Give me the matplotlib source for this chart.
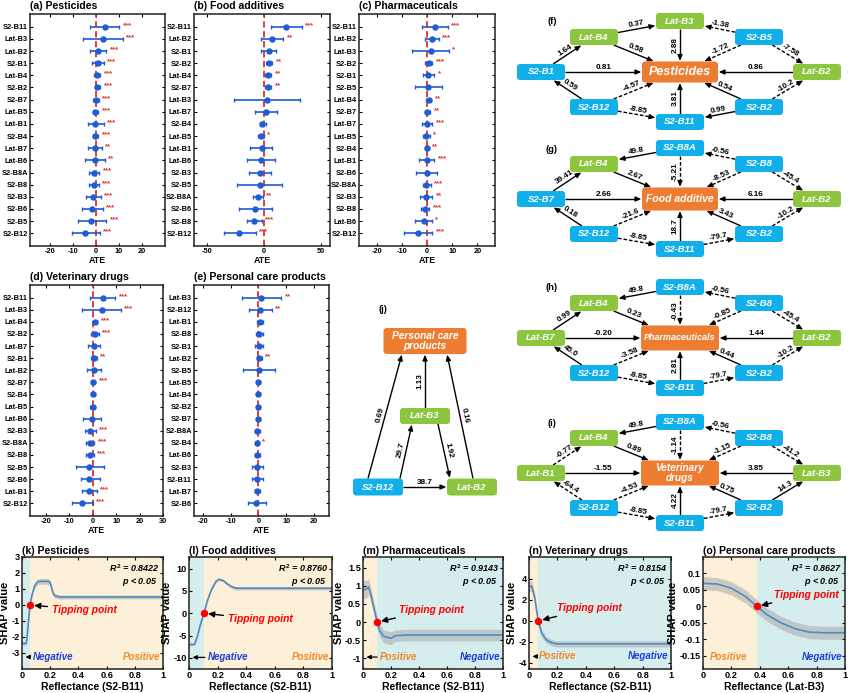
import numpy as np
import matplotlib
matplotlib.use("Agg")
import matplotlib.pyplot as plt
from matplotlib.patches import FancyBboxPatch

plt.rcParams['font.family'] = ['Liberation Sans', 'DejaVu Sans']
plt.rcParams['font.weight'] = 'bold'
plt.rcParams['axes.labelweight'] = 'bold'
plt.rcParams['mathtext.fontset'] = 'custom'
plt.rcParams['mathtext.it'] = 'Liberation Sans:italic:bold'
plt.rcParams['mathtext.rm'] = 'Liberation Sans:bold'
plt.rcParams['mathtext.bf'] = 'Liberation Sans:bold'

# ---------------- forest plot data (ATE with CI) ----------------
a_labels = ["S2-B11","Lat-B3","Lat-B2","S2-B1","Lat-B4","S2-B2","S2-B7","Lat-B5","Lat-B1","S2-B4","Lat-B7","Lat-B6","S2-B8A","S2-B8","S2-B3","S2-B6","S2-B5","S2-B12"]
a_ate = [3.7, 2.9, 0.9, 0.9, 0.4, 0.4, -0.1, -0.3, -0.3, -0.3, -0.6, -0.6, -0.9, -1.0, -1.1, -1.6, -2.0, -4.6]
a_lo = [-2.4, -5.7, -2.7, -1.6, -0.9, -0.6, -1.1, -1.3, -3.6, -1.1, -3.6, -4.7, -2.9, -2.9, -4.3, -6.0, -7.7, -10.6]
a_hi = [10.0, 11.6, 4.4, 3.4, 1.9, 1.9, 1.1, 1.0, 3.4, 0.9, 2.6, 3.7, 1.4, 1.3, 2.1, 3.0, 4.4, 1.6]
a_sig = ["***","***","***","***","***","***","***","***","***","***","**","**","***","***","***","***","***","***"]

b_labels = ["S2-B11","Lat-B2","S2-B1","S2-B2","Lat-B4","S2-B7","Lat-B3","Lat-B7","S2-B4","Lat-B5","Lat-B1","Lat-B6","S2-B3","S2-B5","S2-B8A","S2-B6","S2-B8","S2-B12"]
b_ate = [19.9, 7.0, 4.4, 4.9, 4.1, 3.8, 2.6, 1.8, -1.2, -2.0, -1.8, -2.6, -3.2, -3.5, -5.0, -7.9, -8.5, -22.0]
b_lo = [6.1, -2.6, -2.0, 2.0, 1.4, 0.9, -26.0, -7.9, -3.2, -5.0, -12.0, -15.0, -13.0, -23.0, -9.0, -22.0, -14.9, -35.0]
b_hi = [33.3, 17.0, 11.0, 7.6, 6.7, 6.7, 31.6, 11.3, 1.8, 0.0, 7.6, 9.6, 6.1, 16.3, -1.0, 7.6, -1.7, -7.0]
b_sig = ["***","**","","**","**","**","","","","*","","","","","**","","***","***"]

c_labels = ["S2-B11","Lat-B2","Lat-B3","S2-B2","S2-B1","S2-B5","Lat-B4","S2-B7","Lat-B7","Lat-B5","S2-B4","Lat-B1","S2-B6","S2-B8A","S2-B3","S2-B8","Lat-B6","S2-B12"]
c_ate = [3.0, 1.8, 1.7, 0.7, 0.5, 0.5, 0.7, 0.1, 0.1, -0.3, -0.1, -0.1, -0.1, -0.3, -0.5, -0.7, -1.3, -3.4]
c_lo = [-1.8, -0.9, -5.9, -0.7, -1.6, -4.9, -0.3, -0.8, -2.1, -1.5, -0.8, -3.2, -4.5, -1.7, -2.9, -2.2, -4.6, -9.1]
c_hi = [8.3, 4.6, 8.7, 2.1, 2.9, 6.0, 1.6, 1.2, 2.1, 1.0, 0.7, 2.8, 4.1, 1.4, 2.0, 0.9, 1.8, 2.0]
c_sig = ["***","***","*","***","*","","**","**","***","*","**","***","","***","**","***","*","***"]

d_labels = ["S2-B11","Lat-B3","Lat-B4","S2-B2","Lat-B7","S2-B1","Lat-B2","S2-B7","S2-B4","Lat-B5","Lat-B6","S2-B3","S2-B8A","S2-B8","S2-B5","S2-B6","Lat-B1","S2-B12"]
d_ate = [4.2, 3.8, 1.0, 0.8, 0.6, 0.4, 0.6, 0.1, 0.0, -0.1, -0.4, -1.1, -1.1, -1.1, -1.4, -1.4, -1.5, -4.6]
d_lo = [-1.1, -4.4, 0.0, -0.8, -2.1, -0.7, -2.5, -0.8, -0.8, -1.2, -4.2, -3.2, -2.7, -2.8, -7.2, -5.1, -4.6, -8.9]
d_hi = [9.7, 12.0, 2.0, 2.5, 3.1, 1.7, 3.4, 1.1, 0.8, 1.1, 3.4, 1.3, 0.6, 0.4, 4.9, 3.1, 1.7, -0.1]
d_sig = ["***","***","***","***","","**","","***","","","","***","***","***","","","***","***"]

e_labels = ["Lat-B3","S2-B12","Lat-B1","S2-B8","S2-B1","Lat-B2","S2-B5","Lat-B5","Lat-B4","S2-B2","S2-B7","S2-B8A","S2-B4","Lat-B6","S2-B3","S2-B11","Lat-B7","S2-B6"]
e_ate = [1.0, 0.5, 0.4, 0.2, 0.2, 0.1, 0.1, 0.0, 0.0, 0.0, 0.0, -0.4, -0.4, -0.4, -0.4, -0.5, -0.5, -0.8]
e_lo = [-6.0, -3.5, -0.7, -1.0, -1.2, -0.6, -5.7, -0.4, -0.4, -0.5, -0.4, -1.1, -0.8, -1.2, -2.4, -2.5, -1.4, -3.8]
e_hi = [8.2, 4.8, 1.7, 1.8, 1.7, 1.1, 5.8, 0.4, 0.4, 0.5, 0.4, 0.6, 0.1, 0.6, 1.8, 1.6, 0.4, 2.7]
e_sig = ["**","**","","","","**","","","","","","","*","","","","",""]

# ---------------- causal network data (edge: source, target, effect) ----------------
f_edges = [("S2-B1","Lat-B4","1.64"),("Lat-B4","Lat-B3","0.37"),("Lat-B4","Pesticides","0.58"),
           ("Lat-B3","Pesticides","2.88"),("S2-B5","Lat-B3","-1.38"),("S2-B5","Pesticides","-1.72"),
           ("S2-B5","Lat-B2","-7.58"),("S2-B1","Pesticides","0.81"),("Lat-B2","Pesticides","0.86"),
           ("S2-B12","S2-B1","0.59"),("S2-B12","Pesticides","-4.57"),("S2-B12","S2-B11","-8.85"),
           ("S2-B11","Pesticides","3.81"),("S2-B2","Pesticides","0.54"),("S2-B2","S2-B11","0.99"),
           ("S2-B2","Lat-B2","-10.2")]
g_edges = [("S2-B8A","Lat-B4","49.8"),("S2-B7","Lat-B4","39.41"),("Lat-B4","Food additive","2.67"),
           ("S2-B8A","Food additive","-5.21"),("S2-B8","S2-B8A","-0.56"),("S2-B8","Food additive","-8.53"),
           ("S2-B8","Lat-B2","-45.4"),("S2-B7","Food additive","2.66"),("Lat-B2","Food additive","6.16"),
           ("S2-B12","S2-B7","0.18"),("S2-B12","Food additive","-21.6"),("S2-B12","S2-B11","-8.85"),
           ("S2-B11","Food additive","18.7"),("S2-B11","S2-B2","-79.7"),("S2-B2","Food additive","3.43"),
           ("S2-B2","Lat-B2","-10.2")]
h_edges = [("S2-B8A","Lat-B4","49.8"),("Lat-B7","Lat-B4","0.99"),("Lat-B4","Pharmaceuticals","0.23"),
           ("S2-B8A","Pharmaceuticals","-0.43"),("S2-B8","S2-B8A","-0.56"),("S2-B8","Pharmaceuticals","-0.85"),
           ("S2-B8","Lat-B2","-45.4"),("Lat-B7","Pharmaceuticals","-0.20"),("Lat-B2","Pharmaceuticals","1.44"),
           ("S2-B12","Lat-B7","45.0"),("S2-B12","Pharmaceuticals","-3.58"),("S2-B12","S2-B11","-8.85"),
           ("S2-B11","Pharmaceuticals","2.81"),("S2-B11","S2-B2","-79.7"),("S2-B2","Pharmaceuticals","0.44"),
           ("S2-B2","Lat-B2","-10.2")]
i_edges = [("S2-B8A","Lat-B4","49.8"),("Lat-B1","Lat-B4","-0.77"),("Lat-B4","Veterinary drugs","0.89"),
           ("S2-B8A","Veterinary drugs","-1.14"),("S2-B8","S2-B8A","-0.56"),("S2-B8","Veterinary drugs","-1.15"),
           ("S2-B8","Lat-B3","-41.2"),("Lat-B1","Veterinary drugs","-1.55"),("Lat-B3","Veterinary drugs","3.85"),
           ("S2-B12","Lat-B1","-64.4"),("S2-B12","Veterinary drugs","-4.53"),("S2-B12","S2-B11","-8.85"),
           ("S2-B11","Veterinary drugs","4.22"),("S2-B11","S2-B2","-79.7"),("S2-B2","Veterinary drugs","0.75"),
           ("S2-B2","Lat-B3","14.3")]
j_edges = [("S2-B12","Personal care products","0.69"),("Lat-B3","Personal care products","1.13"),
           ("Lat-B2","Personal care products","0.16"),("S2-B12","Lat-B3","29.7"),
           ("Lat-B3","Lat-B2","1.92"),("S2-B12","Lat-B2","38.7")]

# ---------------- SHAP dependence curves ----------------
k_x = [0, 0.03, 0.036, 0.046, 0.057, 0.07, 0.09, 0.11, 0.13, 0.17, 0.195, 0.205, 0.215, 0.225, 0.24, 0.27, 0.35, 1.0]
k_y = [-2.4, -2.4, -2.0, -1.0, 0.0, 0.6, 1.2, 1.45, 1.48, 1.48, 1.45, 1.25, 0.9, 0.65, 0.55, 0.5, 0.5, 0.5]
k_band = [0.1, 0.1, 0.1, 0.12, 0.12, 0.12, 0.15, 0.18, 0.18, 0.18, 0.18, 0.18, 0.15, 0.15, 0.13, 0.13, 0.12, 0.12]

l_x = [0, 0.03, 0.04, 0.06, 0.08, 0.105, 0.13, 0.16, 0.19, 0.21, 0.24, 0.27, 0.3, 0.33, 0.5, 1.0]
l_y = [-7.0, -7.0, -6.9, -5.0, -2.5, 0.0, 3.0, 5.5, 7.2, 7.6, 7.3, 6.5, 5.9, 5.6, 5.6, 5.6]
l_band = [0.3, 0.3, 0.3, 0.3, 0.3, 0.3, 0.3, 0.3, 0.3, 0.3, 0.3, 0.3, 0.4, 0.4, 0.4, 0.4]

m_x = [0, 0.02, 0.04, 0.06, 0.08, 0.1, 0.12, 0.15, 0.2, 0.23, 0.3, 0.5, 1.0]
m_y = [0.9, 0.9, 0.97, 0.7, 0.35, 0.02, -0.25, -0.4, -0.45, -0.38, -0.36, -0.36, -0.36]
m_band = [0.25, 0.25, 0.22, 0.2, 0.18, 0.18, 0.18, 0.18, 0.18, 0.16, 0.16, 0.16, 0.16]

n_x = [0, 0.02, 0.04, 0.065, 0.09, 0.12, 0.16, 0.2, 0.3, 1.0]
n_y = [3.3, 3.3, 2.2, 0.0, -1.2, -1.8, -2.1, -2.2, -2.2, -2.2]
n_band = [0.5, 0.5, 0.45, 0.4, 0.35, 0.3, 0.3, 0.3, 0.3, 0.3]

o_x = [0, 0.1, 0.2, 0.3, 0.38, 0.45, 0.55, 0.65, 0.75, 0.85, 1.0]
o_y = [0.07, 0.068, 0.055, 0.03, 0.0, -0.025, -0.05, -0.068, -0.078, -0.08, -0.08]
o_band = [0.02, 0.02, 0.02, 0.02, 0.02, 0.02, 0.02, 0.02, 0.02, 0.02, 0.02]

# ---------------- styling ----------------
W, H = 848, 693
BLUE = '#1f5cd6'
RED = '#d9302c'
GREEN = '#8cc63e'
SKY = '#12b0ea'
ORANGE = '#ee7d32'
BG_BLUE = '#d6eded'
BG_BEIGE = '#fdf0d8'
LINE = '#4f8cc6'
NEG_BLUE = '#1f3fd8'
POS_ORANGE = '#f0892c'

fig = plt.figure(figsize=(W / 100, H / 100), dpi=100)


def px_axes(x0, y0, x1, y1):
    return fig.add_axes([x0 / W, 1 - y1 / H, (x1 - x0) / W, (y1 - y0) / H])


def forest(box, title, labels, ate, lo, hi, sig, xlim, xticks):
    ax = px_axes(*box)
    n = len(labels)
    y = np.arange(n)
    ate = np.array(ate); lo = np.array(lo); hi = np.array(hi)
    ax.axvline(0, color=RED, ls=(0, (3.5, 2)), lw=1.3, zorder=2)
    ax.errorbar(ate, y, xerr=[ate - lo, hi - ate], fmt='o', color=BLUE, ms=3.6,
                lw=1.2, capsize=1.7, capthick=1.0, zorder=3)
    for yi, h, s in zip(y, hi, sig):
        if s:
            ax.annotate(s, (h, yi), xytext=(2.5, 1.0), textcoords='offset points',
                        color=RED, fontsize=5.6, va='center', ha='left')
    ax.set_xlim(*xlim)
    ax.set_ylim(n - 1 + 1.05, -1.05)
    ax.set_yticks(y)
    ax.set_yticklabels(labels, fontsize=5.3)
    ax.set_xticks(xticks)
    ax.set_xticklabels([str(t) for t in xticks], fontsize=5.3)
    ax.tick_params(direction='in', top=True, right=True, length=2.2, width=0.8, pad=1.5)
    ax.set_xlabel('ATE', fontsize=6.4, labelpad=1)
    for s in ax.spines.values():
        s.set_linewidth(1.1)
        s.set_color('#222222')
    ax.text(0, 1.012, title, transform=ax.transAxes, ha='left', va='bottom', fontsize=7.6)
    return ax


forest((30, 14, 165, 246), '(a) Pesticides', a_labels, a_ate, a_lo, a_hi, a_sig, (-28.7, 30), [-20, -10, 0, 10, 20])
forest((194, 14, 330, 246), '(b) Food additives', b_labels, b_ate, b_lo, b_hi, b_sig, (-61, 58), [-50, 0, 50])
forest((359, 14, 495, 246), '(c) Pharmaceuticals', c_labels, c_ate, c_lo, c_hi, c_sig, (-27, 27), [-20, -10, 0, 10, 20])
forest((30, 285, 163, 516), '(d) Veterinary drugs', d_labels, d_ate, d_lo, d_hi, d_sig, (-26.8, 30), [-20, -10, 0, 10, 20, 30])
forest((194, 285, 329, 516), '(e) Personal care products', e_labels, e_ate, e_lo, e_hi, e_sig, (-23.2, 25.4), [-20, -10, 0, 10, 20])

# ---------------- network diagrams (overlay in pixel coordinates) ----------------
net = fig.add_axes([0, 0, 1, 1])
net.set_xlim(0, W)
net.set_ylim(H, 0)
net.axis('off')
net.patch.set_visible(False)

CX = 680
SLOTS = {'T': (0, -51), 'UL': (-86, -35), 'UR': (79, -35), 'L': (-139, 0), 'C': (0, 0),
         'R': (137, 0), 'LL': (-86, 35), 'LR': (79, 35), 'B': (0, 50)}
SOLID_NEGATIVE = {("Lat-B7", "Pharmaceuticals"), ("Lat-B1", "Veterinary drugs")}


def node_color(name):
    if name.startswith('Lat-'):
        return GREEN
    if name.startswith('S2-'):
        return SKY
    return ORANGE


def draw_node(name, c, w, h, text, fs):
    p = FancyBboxPatch((c[0] - w / 2, c[1] - h / 2), w, h,
                       boxstyle='round,pad=0,rounding_size=3', fc=node_color(name), ec='none', zorder=4)
    net.add_patch(p)
    net.text(c[0], c[1], text, color='white', fontsize=fs, style='italic', weight='bold',
             ha='center', va='center', zorder=5, linespacing=1.0)


def clip(c, other, hw, hh):
    dx, dy = other[0] - c[0], other[1] - c[1]
    tx = hw / abs(dx) if dx != 0 else np.inf
    ty = hh / abs(dy) if dy != 0 else np.inf
    t = min(tx, ty)
    return np.array([c[0] + dx * t, c[1] + dy * t])


def draw_edge(p1, p2, label, dashed, fs=5.9, off=4.8):
    p1 = np.asarray(p1, float); p2 = np.asarray(p2, float)
    d = p2 - p1
    L = np.hypot(*d)
    u = d / L
    tip = p2 - u * 0.8
    net.plot([p1[0], tip[0] - u[0] * 3], [p1[1], tip[1] - u[1] * 3], color='k', lw=1.0,
             ls=(0, (2.6, 1.4)) if dashed else '-', zorder=3, solid_capstyle='butt')
    net.annotate('', xy=tip, xytext=tip - u * 5,
                 arrowprops=dict(arrowstyle='-|>,head_length=0.5,head_width=0.22', color='k', lw=0.8,
                                 shrinkA=0, shrinkB=0, mutation_scale=7), zorder=3)
    nvec = np.array([u[1], -u[0]])
    if abs(nvec[1]) < 1e-6:
        if nvec[0] > 0:
            nvec = -nvec
    elif nvec[1] > 0:
        nvec = -nvec
    mid = (p1 + p2) / 2 + nvec * off
    ang = np.degrees(np.arctan2(-d[1], d[0]))
    if ang > 90.01:
        ang -= 180
    if ang <= -89.99:
        ang += 180
    net.text(mid[0], mid[1], label, fontsize=fs, rotation=ang, rotation_mode='anchor',
             ha='center', va='center', zorder=6)


def draw_network(tag, cy, nodes, center, center_size, center_text, center_fs, edges):
    pos = {}
    size = {}
    for name, slot in nodes.items():
        dx, dy = SLOTS[slot]
        pos[name] = (CX + dx, cy + dy)
        size[name] = center_size if name == center else (48, 16)
    for s, t, v in edges:
        dashed = v.startswith('-') and (s, t) not in SOLID_NEGATIVE
        p1 = clip(pos[s], pos[t], size[s][0] / 2, size[s][1] / 2)
        p2 = clip(pos[t], pos[s], size[t][0] / 2, size[t][1] / 2)
        draw_edge(p1, p2, v, dashed)
    for name in nodes:
        if name == center:
            draw_node(name, pos[name], center_size[0], center_size[1], center_text, center_fs)
        else:
            draw_node(name, pos[name], 48, 16, name, 6.8)
    net.text(552, cy - 50, tag, fontsize=6.8, ha='center', va='center')


draw_network('(f)', 72, {"Lat-B3": "T", "Lat-B4": "UL", "S2-B5": "UR", "S2-B1": "L", "Pesticides": "C",
                         "Lat-B2": "R", "S2-B12": "LL", "S2-B2": "LR", "S2-B11": "B"},
             "Pesticides", (76, 21), "Pesticides", 9.0, f_edges)
draw_network('(g)', 199, {"S2-B8A": "T", "Lat-B4": "UL", "S2-B8": "UR", "S2-B7": "L", "Food additive": "C",
                          "Lat-B2": "R", "S2-B12": "LL", "S2-B2": "LR", "S2-B11": "B"},
             "Food additive", (76, 23), "Food additive", 7.5, g_edges)
draw_network('(h)', 338, {"S2-B8A": "T", "Lat-B4": "UL", "S2-B8": "UR", "Lat-B7": "L", "Pharmaceuticals": "C",
                          "Lat-B2": "R", "S2-B12": "LL", "S2-B2": "LR", "S2-B11": "B"},
             "Pharmaceuticals", (78, 25), "Pharmaceuticals", 6.5, h_edges)
draw_network('(i)', 473, {"S2-B8A": "T", "Lat-B4": "UL", "S2-B8": "UR", "Lat-B1": "L", "Veterinary drugs": "C",
                          "Lat-B3": "R", "S2-B12": "LL", "S2-B2": "LR", "S2-B11": "B"},
             "Veterinary drugs", (78, 25), "Veterinary\ndrugs", 7.2, i_edges)

# panel (j)
J_POS = {"Personal care products": (425, 341), "Lat-B3": (425, 416), "S2-B12": (378, 487), "Lat-B2": (472, 487)}
J_SIZE = {"Personal care products": (83, 26), "Lat-B3": (50, 16), "S2-B12": (50, 17), "Lat-B2": (50, 17)}
J_ANCHOR = {("S2-B12", "Personal care products"): ((-10, -8.5), (-23, 13)),
            ("Lat-B3", "Personal care products"): ((0, -8), (0, 13)),
            ("Lat-B2", "Personal care products"): ((1, -8.5), (22, 13)),
            ("S2-B12", "Lat-B3"): ((22, -8.5), (-13, 8)),
            ("Lat-B3", "Lat-B2"): ((13, 8), (-22, -8.5)),
            ("S2-B12", "Lat-B2"): ((25, 0), (-25, 0))}
for s, t, v in j_edges:
    (ax1, ay1), (ax2, ay2) = J_ANCHOR[(s, t)]
    p1 = (J_POS[s][0] + ax1, J_POS[s][1] + ay1)
    p2 = (J_POS[t][0] + ax2, J_POS[t][1] + ay2)
    draw_edge(p1, p2, v, v.startswith('-'))
for name, c in J_POS.items():
    w, h = J_SIZE[name]
    txt = "Personal care\nproducts" if name == "Personal care products" else name
    draw_node(name, c, w, h, txt, 7.3 if name == "Personal care products" else 6.8)
net.text(383, 309, '(j)', fontsize=6.8, ha='center', va='center')


# ---------------- SHAP panels ----------------
def shap_panel(box, title, x, y, band, xlabel, ylim, yticks, yticklabels, split, first_color,
               tip, tip_text, r2, left_word, left_color, left_arrow, left_x, right_word, right_color, word_y):
    ax = px_axes(*box)
    second = BG_BLUE if first_color == BG_BEIGE else BG_BEIGE
    ax.axvspan(0, split, color=first_color, zorder=0, lw=0)
    ax.axvspan(split, 1, color=second, zorder=0, lw=0)
    x = np.array(x); y = np.array(y); band = np.array(band)
    ax.fill_between(x, y - band, y + band, color='#a9a9a9', alpha=0.55, lw=0, zorder=1)
    ax.plot(x, y, color=LINE, lw=1.2, zorder=2)
    ax.plot([tip[0]], [tip[1]], 'o', color='red', ms=4.4, zorder=4)
    ax.annotate('Tipping point', xy=tip, xytext=tip_text, color='red', fontsize=7.4, style='italic',
                weight='bold', va='center', ha='left',
                arrowprops=dict(arrowstyle='-|>,head_length=0.5,head_width=0.25', color='k', lw=1.0,
                                shrinkA=1, shrinkB=3, mutation_scale=7), zorder=5)
    ax.text(0.975, 0.9, r'$R^2$ = ' + r2, transform=ax.transAxes, ha='right', va='center',
            fontsize=6.5, style='italic', weight='bold')
    ax.text(0.835, 0.78, '$p$ < 0.05', transform=ax.transAxes, ha='center', va='center',
            fontsize=6.5, style='italic', weight='bold')
    if left_arrow:
        ax.annotate(left_word, xy=(0.025, word_y), xytext=(left_x, word_y), color=left_color, fontsize=7.0,
                    style='italic', weight='bold', va='center', ha='left',
                    arrowprops=dict(arrowstyle='-|>,head_length=0.4,head_width=0.2', color='k', lw=0.9,
                                    shrinkA=0, shrinkB=0, mutation_scale=6))
    else:
        ax.text(left_x, word_y, left_word, color=left_color, fontsize=7.0, style='italic',
                weight='bold', va='center', ha='left')
    ax.text(0.98, word_y, right_word, color=right_color, fontsize=7.0, style='italic', weight='bold',
            va='center', ha='right', transform=ax.get_yaxis_transform())
    ax.set_xlim(0, 1)
    ax.set_ylim(*ylim)
    ax.set_xticks([0, 0.2, 0.4, 0.6, 0.8, 1])
    ax.set_xticklabels(['0', '0.2', '0.4', '0.6', '0.8', '1'], fontsize=6.6)
    ax.set_yticks(yticks)
    ax.set_yticklabels(yticklabels, fontsize=6.6)
    ax.tick_params(direction='in', top=True, right=True, length=2.2, width=0.8, pad=1.5)
    ax.set_xlabel(xlabel, fontsize=7.5, labelpad=1.5)
    ax.set_ylabel('SHAP value', fontsize=8.0, labelpad=1)
    for s in ax.spines.values():
        s.set_linewidth(1.1)
        s.set_color('#222222')
    ax.text(0, 1.012, title, transform=ax.transAxes, ha='left', va='bottom', fontsize=7.6)
    return ax


shap_panel((22, 557, 163, 669), '(k) Pesticides', k_x, k_y, k_band, 'Reflectance (S2-B11)', (-4, 3),
           [-3, -2, -1, 0, 1, 2, 3], ['-3', '-2', '-1', '0', '1', '2', '3'], 0.057, BG_BLUE,
           (0.057, 0.0), (0.21, -0.3), '0.8422', 'Negative', NEG_BLUE, True, 0.075, 'Positive', POS_ORANGE, -3.25)
shap_panel((189, 557, 332, 669), '(l) Food additives', l_x, l_y, l_band, 'Reflectance (S2-B11)', (-12.5, 12.6),
           [-10, -5, 0, 5, 10], ['-10', '-5', '0', '5', '10'], 0.105, BG_BLUE,
           (0.105, 0.0), (0.27, -1.4), '0.8760', 'Negative', NEG_BLUE, True, 0.13, 'Positive', POS_ORANGE, -9.9)
shap_panel((363, 557, 503, 669), '(m) Pharmaceuticals', m_x, m_y, m_band, 'Reflectance (S2-B11)', (-1.3, 1.8),
           [-1, -0.5, 0, 0.5, 1, 1.5], ['-1', '-0.5', '0', '0.5', '1', '1.5'], 0.1, BG_BEIGE,
           (0.1, 0.0), (0.26, 0.33), '0.9143', 'Positive', POS_ORANGE, True, 0.12, 'Negative', NEG_BLUE, -0.97)
shap_panel((529, 557, 671, 669), '(n) Veterinary drugs', n_x, n_y, n_band, 'Reflectance (S2-B11)', (-4.6, 6.1),
           [-4, -2, 0, 2, 4], ['-4', '-2', '0', '2', '4'], 0.065, BG_BEIGE,
           (0.065, 0.0), (0.2, 1.2), '0.8154', 'Positive', POS_ORANGE, True, 0.07, 'Negative', NEG_BLUE, -3.4)
shap_panel((703, 557, 845, 669), '(o) Personal care products', o_x, o_y, o_band, 'Reflectance (Lat-B3)', (-0.19, 0.15),
           [-0.15, -0.1, -0.05, 0, 0.05, 0.1], ['-0.15', '-0.1', '-0.05', '0', '0.05', '0.1'], 0.38, BG_BEIGE,
           (0.38, 0.0), (0.5, 0.035), '0.8627', 'Positive', POS_ORANGE, False, 0.05, 'Negative', NEG_BLUE, -0.155)

fig.savefig('out.png', dpi=100)
